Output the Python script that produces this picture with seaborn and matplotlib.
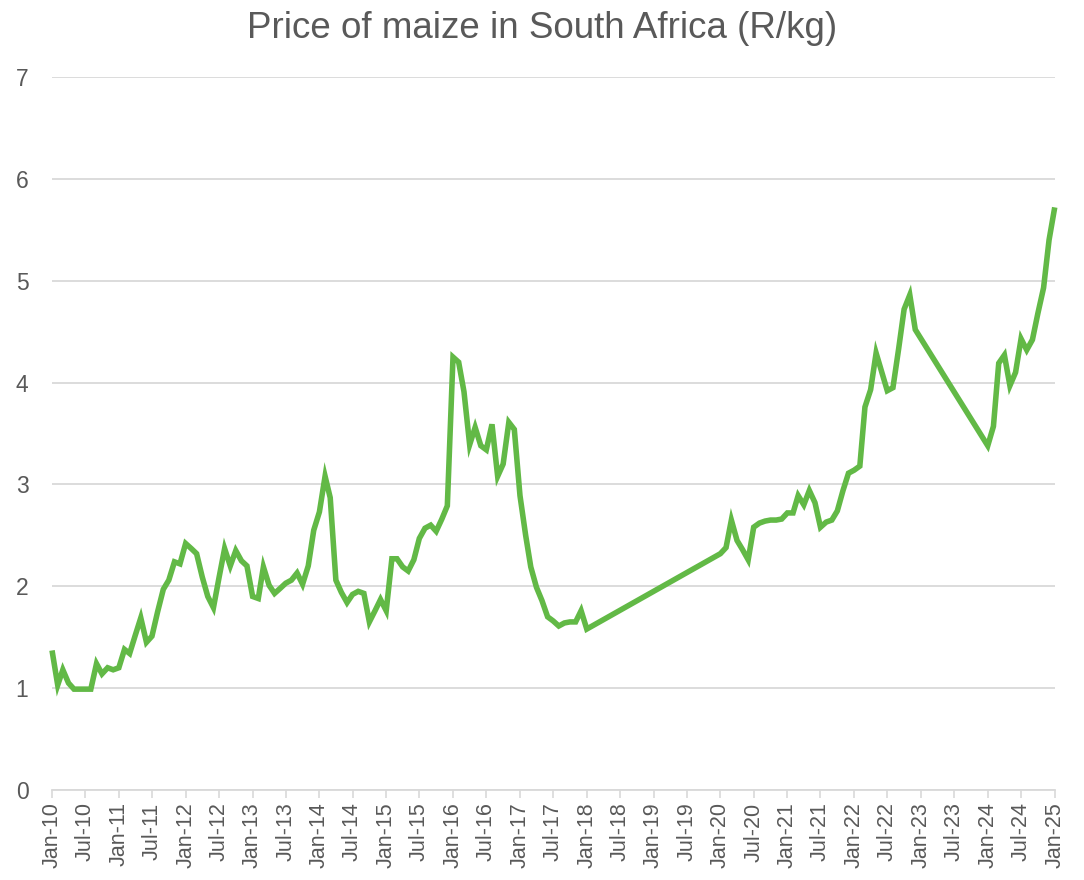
import numpy as np
import pandas as pd
import matplotlib
matplotlib.use("Agg")
import matplotlib.pyplot as plt
import matplotlib.dates as mdates
import seaborn as sns

# Monthly prices (R/kg), three observed stretches
seg1_start, seg1_end = "2010-01-01", "2018-01-01"
seg1_prices = [
    1.37, 1.03, 1.18, 1.05, 0.99, 0.99, 0.99, 0.99, 1.24, 1.14, 1.20, 1.18,  # 2010
    1.20, 1.38, 1.34, 1.52, 1.69, 1.45, 1.51, 1.75, 1.97, 2.06, 2.24, 2.22,  # 2011
    2.42, 2.37, 2.32, 2.09, 1.90, 1.79, 2.08, 2.37, 2.20, 2.35, 2.25, 2.20,  # 2012
    1.90, 1.88, 2.19, 2.01, 1.93, 1.98, 2.03, 2.06, 2.13, 2.02, 2.20, 2.55,  # 2013
    2.73, 3.08, 2.87, 2.06, 1.94, 1.84, 1.92, 1.95, 1.93, 1.65, 1.76, 1.87,  # 2014
    1.76, 2.27, 2.27, 2.19, 2.15, 2.26, 2.47, 2.57, 2.60, 2.54, 2.66, 2.79,  # 2015
    4.25, 4.20, 3.91, 3.39, 3.56, 3.38, 3.34, 3.59, 3.08, 3.20, 3.61, 3.54,  # 2016
    2.89, 2.50, 2.19, 1.99, 1.86, 1.70, 1.66, 1.61, 1.64, 1.65, 1.65, 1.76,  # 2017
    1.58,                                                                    # Jan-18
]
seg2_start, seg2_end = "2020-01-01", "2022-12-01"
seg2_prices = [
    2.32, 2.38, 2.65, 2.45, 2.36, 2.26, 2.58, 2.62, 2.64, 2.65, 2.65, 2.66,  # 2020
    2.72, 2.72, 2.89, 2.80, 2.94, 2.82, 2.58, 2.63, 2.65, 2.74, 2.94, 3.11,  # 2021
    3.14, 3.18, 3.76, 3.93, 4.29, 4.10, 3.92, 3.95, 4.33, 4.72, 4.86, 4.52,  # 2022
]
seg3_start, seg3_end = "2024-01-01", "2025-01-01"
seg3_prices = [
    3.38, 3.57, 4.19, 4.27, 3.97, 4.10, 4.43, 4.32, 4.42, 4.68, 4.93, 5.40,  # 2024
    5.72,                                                                    # Jan-25
]

title = "Price of maize in South Africa (R/kg)"
y_ticks = [0, 1, 2, 3, 4, 5, 6, 7]

dates = np.concatenate([
    pd.date_range(seg1_start, seg1_end, freq="MS"),
    pd.date_range(seg2_start, seg2_end, freq="MS"),
    pd.date_range(seg3_start, seg3_end, freq="MS"),
])
prices = seg1_prices + seg2_prices + seg3_prices
df = pd.DataFrame({"date": pd.to_datetime(dates), "price": prices})

sns.set_theme(style="white")
plt.rcParams["font.family"] = ["Liberation Sans", "DejaVu Sans"]

grey_text = "#595959"
grid_c = "#d9d9d9"

fig = plt.figure(figsize=(10.84, 8.8), dpi=100)
ax = fig.add_axes([0.048, 0.1023, 0.925, 0.8102])

sns.lineplot(data=df, x="date", y="price", ax=ax, color="#62B946",
             linewidth=4.0, solid_joinstyle="miter", solid_capstyle="butt")
for ln in ax.get_lines():
    ln.set_clip_on(False)

ax.set_xlim(pd.Timestamp("2010-01-01"), pd.Timestamp("2025-01-01"))
ax.set_ylim(0, 7)
ax.set_yticks(y_ticks)
ax.set_yticklabels([str(t) for t in y_ticks])
ax.yaxis.grid(True, color=grid_c, linewidth=1.3)
ax.set_axisbelow(True)

ax.xaxis.set_major_locator(mdates.MonthLocator(bymonth=[1, 7]))
ax.xaxis.set_major_formatter(mdates.DateFormatter("%b-%y"))
for lbl in ax.get_xticklabels():
    lbl.set_rotation(90)

ax.tick_params(axis="x", colors=grey_text, labelsize=15.5, length=6, width=1.2,
               color=grid_c, direction="out", pad=3, bottom=True)
ax.tick_params(axis="y", colors=grey_text, labelsize=16.5, length=0, pad=17)

for s in ["top", "right", "left"]:
    ax.spines[s].set_visible(False)
ax.spines["bottom"].set_color(grid_c)
ax.spines["bottom"].set_linewidth(1.3)

ax.set_xlabel("")
ax.set_ylabel("")
fig.suptitle(title, x=0.5, y=0.988, va="top", fontsize=26.5, color=grey_text)

fig.savefig("out.png", dpi=100)
